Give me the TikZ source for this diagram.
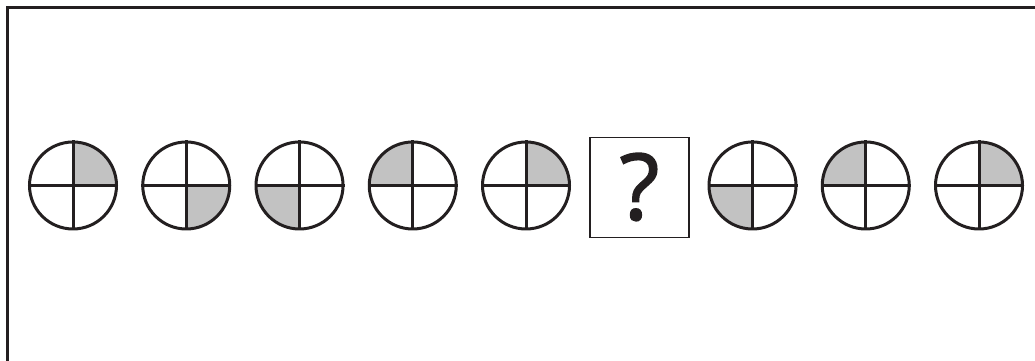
\documentclass[tikz,border=0pt]{standalone}
\usepackage{fontspec}
\newfontfamily\qfont{Open Sans}[FakeBold=1.6]
\definecolor{ink}{HTML}{231F20}
\definecolor{qgray}{HTML}{C2C2C2}
\begin{document}
\begin{tikzpicture}[x=1pt,y=1pt,
  disc/.style={circle, draw=ink, line width=3pt, minimum size=87pt, inner sep=0pt},
  qbox/.style={rectangle, draw=ink, line width=1.5pt, minimum width=99pt, minimum height=100pt, inner sep=0pt},
  cross/.style={draw=ink, line width=3pt}]
\useasboundingbox (0,0) rectangle (1035,361);
\clip (0,0) rectangle (1035,361);
% frame
\draw[ink, line width=3pt] (1040,353) -- (7,353) -- (7,-5);
% shaded quadrants: name / x / start angle
\foreach \n/\x/\a in {c1/73/0, c2/186.25/270, c3/299.5/180, c4/412.75/90, c5/526/0,
                      c7/752.5/180, c8/865.75/90, c9/979/0}{
  \fill[qgray] (\x,175.5) -- ++(\a:43.5) arc[start angle=\a, end angle=\a+90, radius=43.5] -- cycle;
  \node[disc] (\n) at (\x,175.5) {};
  \draw[cross] (\n.north) -- (\n.south);
  \draw[cross] (\n.west) -- (\n.east);
}
\node[qbox] (q) at (639.25,173.5) {};
\node[font=\qfont\fontsize{92}{92}\selectfont, text=ink, inner sep=0pt] (qm) at (639.5,174) {?};
\end{tikzpicture}
\end{document}
